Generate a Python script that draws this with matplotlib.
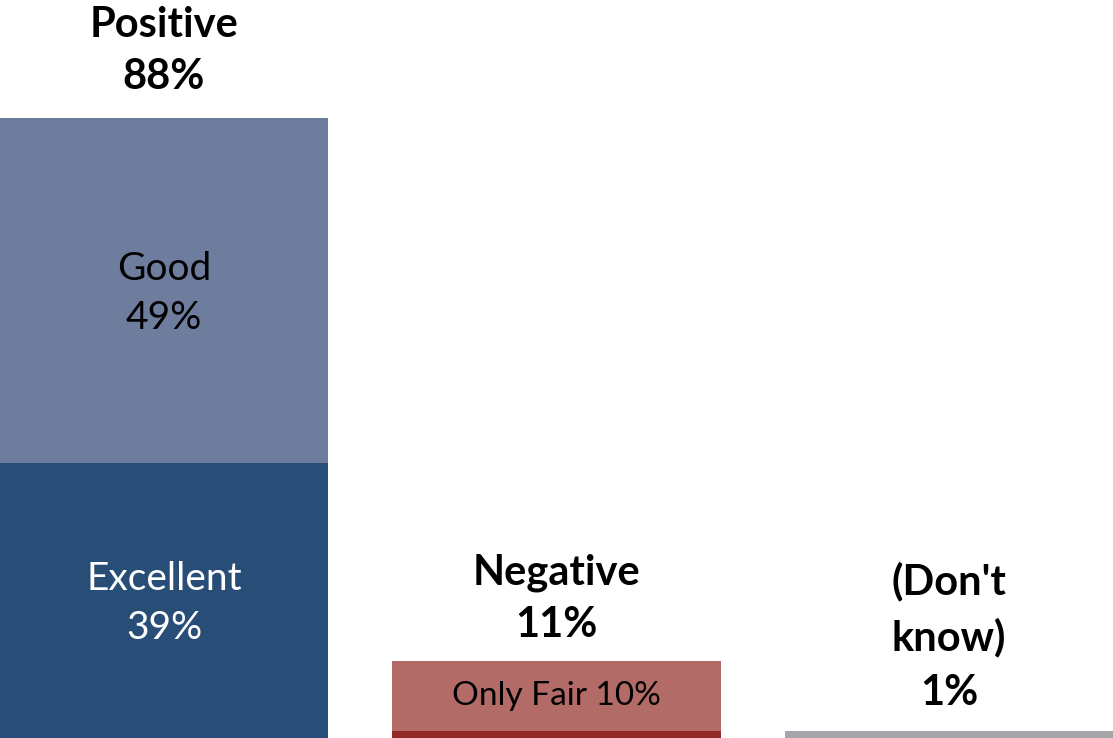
import matplotlib
matplotlib.use("Agg")
import matplotlib.pyplot as plt

# data
groups = ["Positive", "Negative", "(Don't\nknow)"]
totals = [88, 11, 1]
excellent = [39, 0, 0]
good = [49, 0, 0]
poor = [0, 1, 0]
only_fair = [0, 10, 0]
dont_know = [0, 0, 1]

plt.rcParams["font.family"] = ["Lato", "DejaVu Sans"]

fig = plt.figure(figsize=(11.13, 7.38), dpi=100)
ax = fig.add_axes([0, 0, 1, 1])

x = [0, 1, 2]
w = 0.836

# stacked bars
ax.bar(x, excellent, w, color="#284E78")
ax.bar(x, good, w, bottom=excellent, color="#6E7C9E")
ax.bar(x, poor, w, color="#922A26")
ax.bar(x, only_fair, w, bottom=poor, color="#B36B68")
ax.bar(x, dont_know, w, color="#A6A6AA")

# segment labels
ax.text(0, excellent[0] / 2 - 0.4, f"Excellent\n{excellent[0]}%", ha="center", va="center",
        color="white", fontsize=28, linespacing=1.42)
ax.text(0, excellent[0] + good[0] / 2 - 0.4, f"Good\n{good[0]}%", ha="center", va="center",
        color="black", fontsize=28, linespacing=1.42)
ax.text(1, poor[1] + only_fair[1] / 2, f"Only Fair {only_fair[1]}%", ha="center", va="center",
        color="black", fontsize=24)

# group totals above bars (baseline of last line)
offsets = [4.1, 3.4, 3.7]
spacing = [1.45, 1.45, 1.52]
for xi, g, t, off, ls in zip(x, groups, totals, offsets, spacing):
    ax.text(xi, t + off, f"{g}\n{t}%", ha="center", va="baseline",
            fontsize=30, fontweight="bold", linespacing=ls)

ax.set_xlim(-w / 2, 2 + w / 2)
ax.set_ylim(0, 738 / 7.045)
ax.axis("off")

fig.savefig("out.png", dpi=100, facecolor="white")
